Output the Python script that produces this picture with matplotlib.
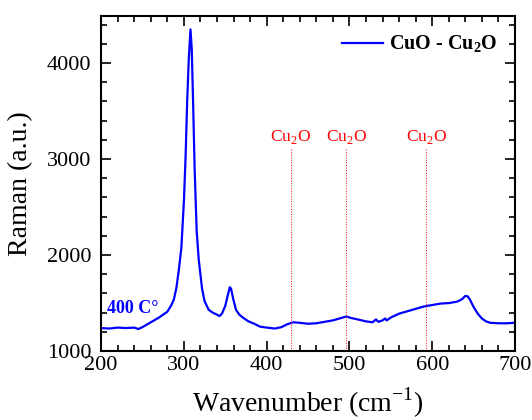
import numpy as np
import matplotlib.pyplot as plt
from matplotlib.ticker import MultipleLocator

plt.rcParams['font.family'] = 'Liberation Serif'
plt.rcParams['mathtext.fontset'] = 'custom'
plt.rcParams['mathtext.rm'] = 'Liberation Serif'
plt.rcParams['mathtext.bf'] = 'Liberation Serif:bold'

# Raman spectrum
wavenumber = [200, 210, 220, 230, 240, 245, 250, 260, 270, 280, 285, 288, 291,
              294, 297, 300, 302, 304, 306, 308, 309.5, 311, 313, 315.5, 318,
              320, 322, 325, 330, 335, 340, 343, 346, 350, 353, 355.5, 357,
              360, 363, 367, 372, 378, 385, 392, 400, 410, 418, 425, 432, 440,
              450, 460, 470, 480, 490, 496, 502, 510, 520, 528, 532, 535, 540,
              543, 545, 550, 560, 570, 580, 590, 600, 610, 620, 630, 636, 640,
              643, 646, 650, 655, 660, 665, 670, 680, 690, 700]
intensity = [1240, 1235, 1245, 1240, 1245, 1230, 1250, 1300, 1350, 1410, 1480,
             1540, 1660, 1850, 2080, 2550, 3000, 3600, 4050, 4350, 4150, 3650,
             2900, 2250, 1950, 1800, 1650, 1520, 1430, 1400, 1380, 1365, 1390,
             1470, 1580, 1665, 1650, 1530, 1430, 1380, 1345, 1310, 1285, 1255,
             1245, 1235, 1250, 1280, 1300, 1295, 1285, 1290, 1305, 1320, 1345,
             1360, 1345, 1330, 1310, 1300, 1330, 1305, 1320, 1340, 1320, 1350,
             1390, 1415, 1440, 1465, 1480, 1495, 1500, 1515, 1540, 1575, 1570,
             1530, 1460, 1390, 1340, 1310, 1295, 1290, 1290, 1295]

# Cu2O reference positions
cu2o_pos = [429, 496, 593]
cu2o_top = 3110

fig = plt.figure(figsize=(5.32, 4.2), dpi=100)
ax = fig.add_axes([0.190, 0.164, 0.778, 0.798])

ax.plot(wavenumber, intensity, color='#0000ff', lw=1.6,
        label=r'CuO - Cu$_\mathbf{2}$O')

for p in cu2o_pos:
    ax.plot([p, p], [1000, cu2o_top], color='red', lw=0.7, ls=':')
    ax.text(p, cu2o_top + 30, r'Cu$_2$O', color='red', fontsize=12.5,
            ha='center', va='bottom')

ax.text(207, 1400, '400 C°', color='#0000ff', fontsize=13, fontweight='bold',
        ha='left', va='baseline')

ax.set_xlim(200, 700)
ax.set_ylim(1000, 4490)
ax.xaxis.set_major_locator(MultipleLocator(100))
ax.xaxis.set_minor_locator(MultipleLocator(20))
ax.yaxis.set_major_locator(MultipleLocator(1000))
ax.yaxis.set_minor_locator(MultipleLocator(200))
ax.tick_params(which='both', direction='in', top=True, right=True, labelsize=16, width=1.2)
ax.tick_params(which='major', length=7)
ax.tick_params(which='minor', length=4)
ax.tick_params(axis='y', pad=7)
for s in ax.spines.values():
    s.set_linewidth(1.5)

ax.set_xlabel(r'Wavenumber (cm$^{-1}$)', fontsize=20, labelpad=8)
ax.set_ylabel('Raman (a.u.)', fontsize=20, labelpad=10)

ax.legend(loc='upper right', frameon=False, handlelength=2.0, handletextpad=0.3,
          prop={'weight': 'bold', 'size': 14.5}, borderaxespad=0.5)

fig.savefig('out.png', dpi=100)
